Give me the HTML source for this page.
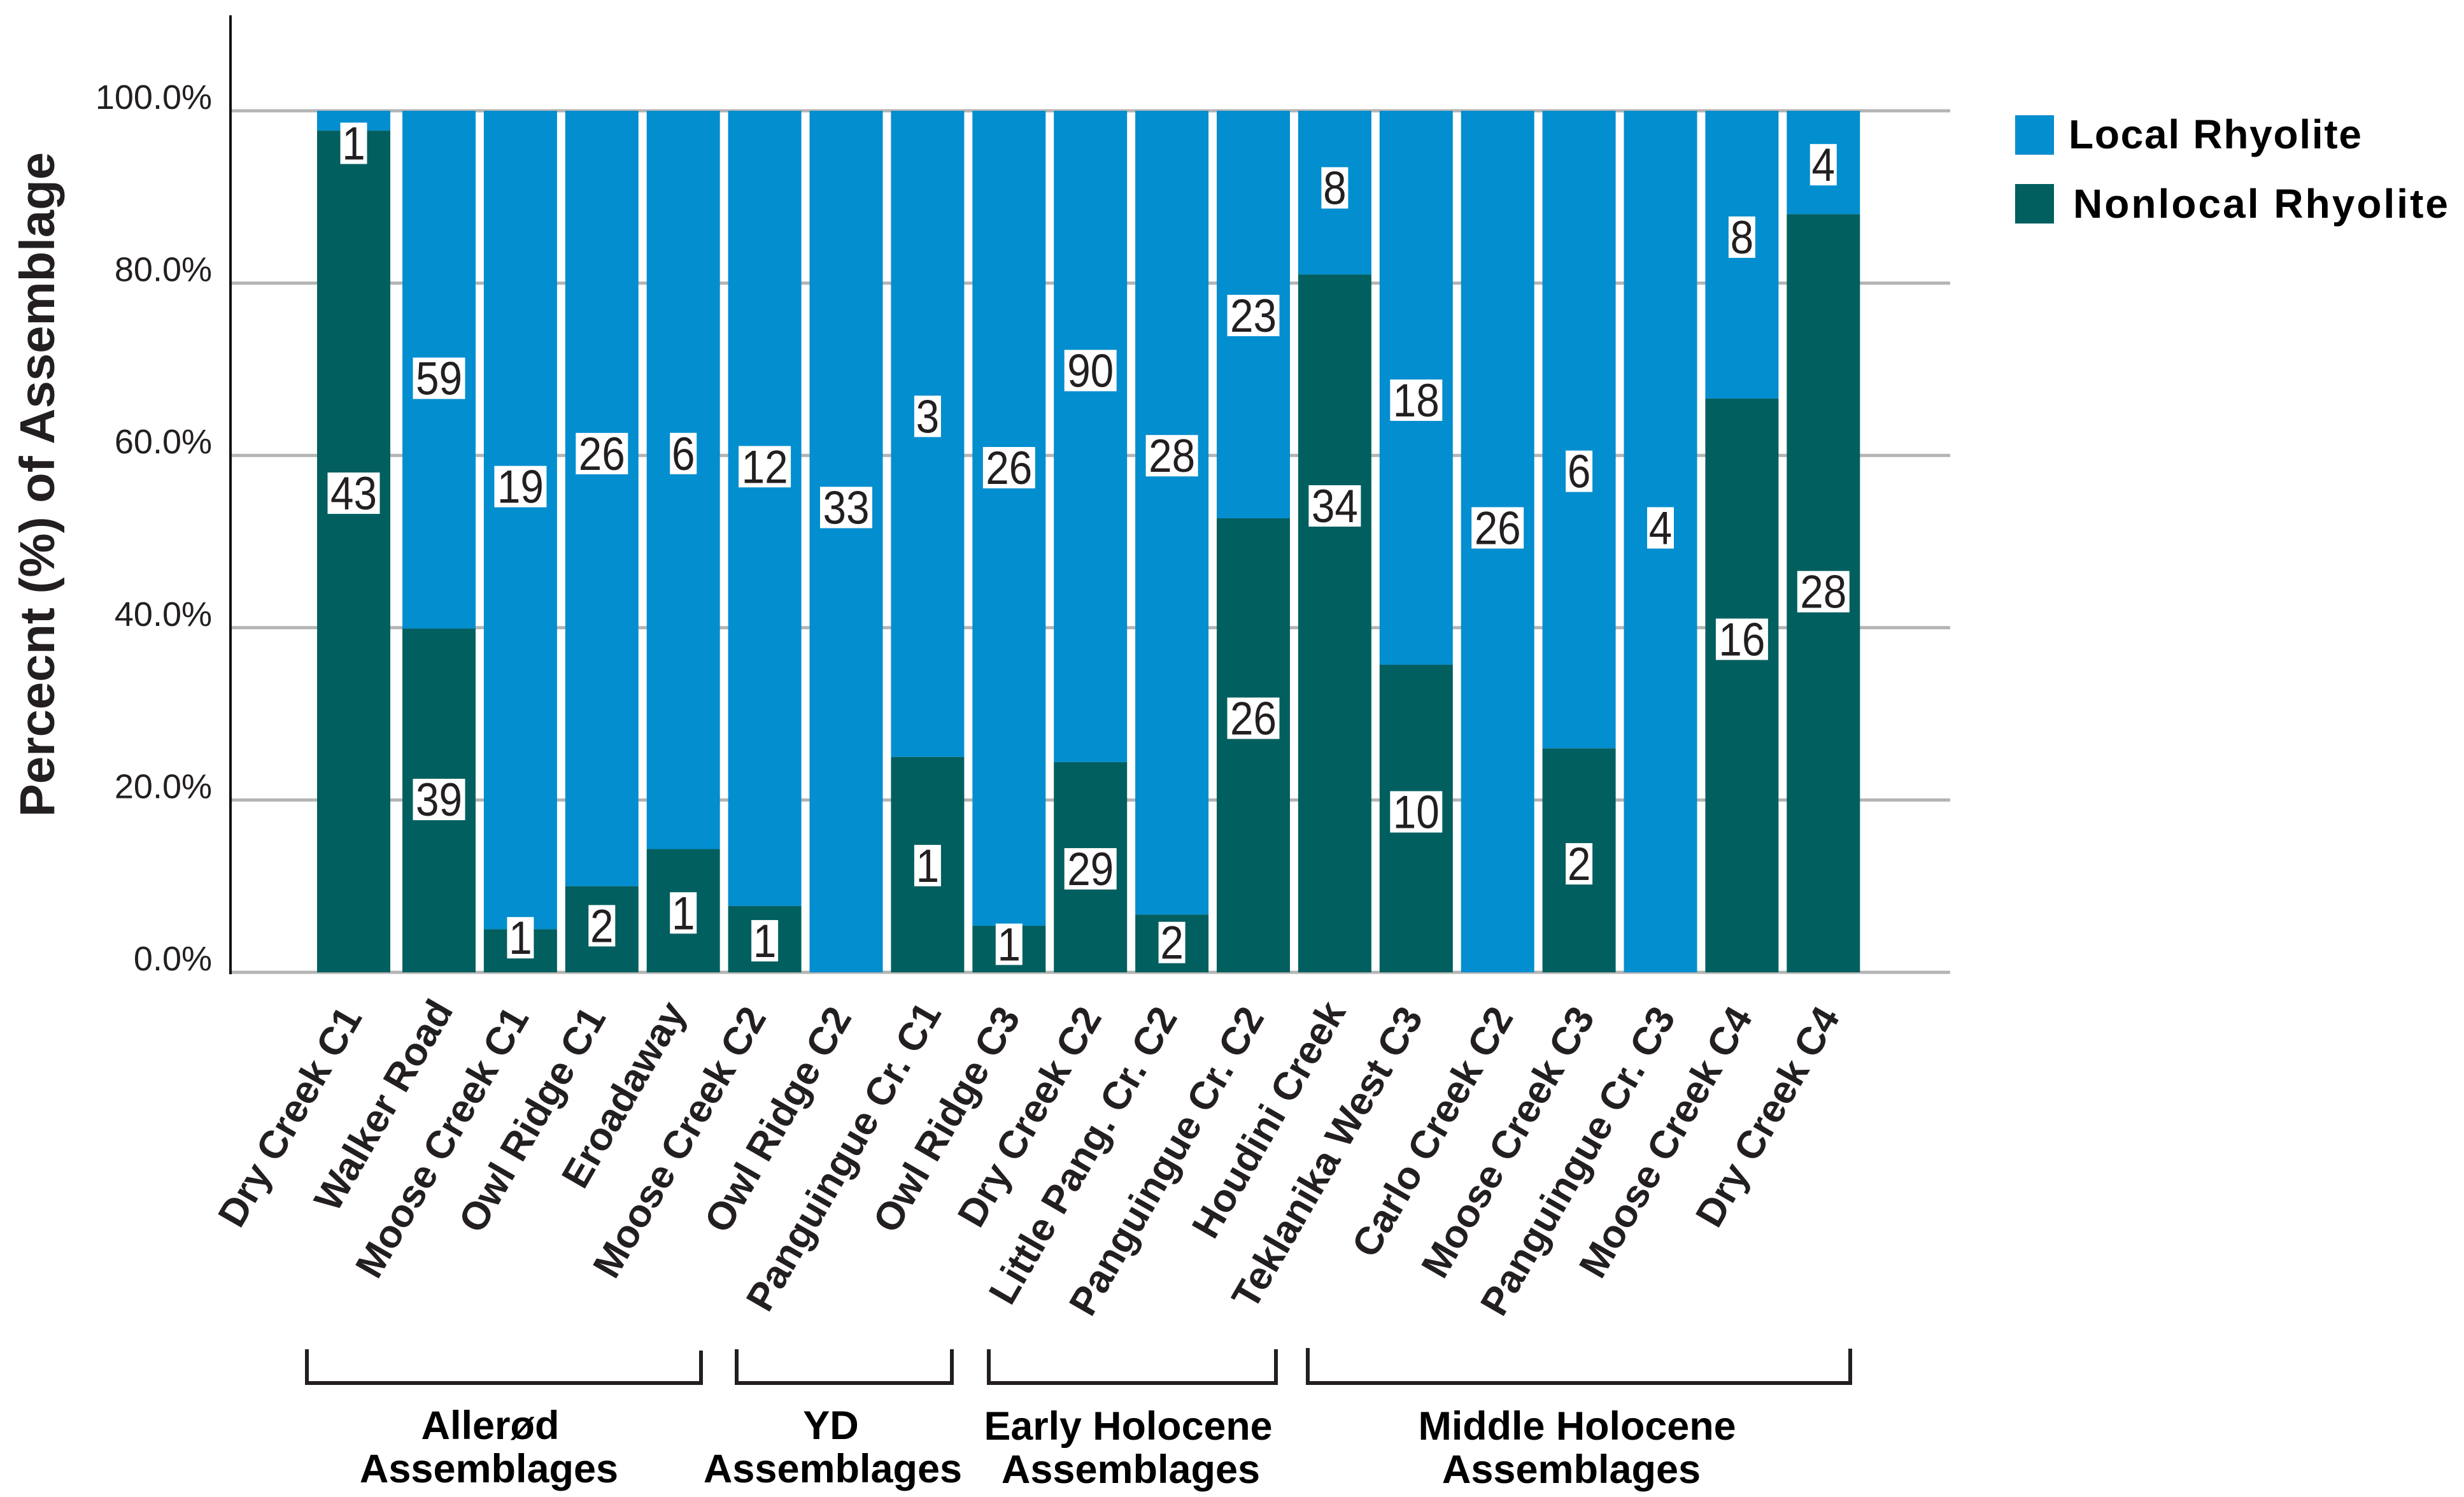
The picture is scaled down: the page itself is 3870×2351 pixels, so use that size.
<!DOCTYPE html>
<html lang="en">
<head>
<meta charset="utf-8">
<title>Local and Nonlocal Rhyolite by Assemblage</title>
<style>
html,body{margin:0;padding:0;background:#fff;}
svg{display:block;}
text{font-family:"Liberation Sans",Arial,sans-serif;}
</style>
</head>
<body>
<svg id="chart" xmlns="http://www.w3.org/2000/svg" width="3870" height="2351" viewBox="0 0 3870 2351">
  <rect width="3870" height="2351" fill="#ffffff"/>
  <g id="grid"></g>
  <g id="ticks"></g>
  <g id="bars"></g>
  <g id="values"></g>
  <g id="cats"></g>
  <line x1="362" y1="24" x2="362" y2="1530" stroke="#111" stroke-width="4"/>
  <text transform="translate(85,761) rotate(-90)" text-anchor="middle" font-size="77" font-weight="700" fill="#231f20" textLength="1044" lengthAdjust="spacingAndGlyphs">Percecnt (%) of Assemblage</text>

  <g>
    <rect x="3165" y="181" width="61" height="62" fill="#028ecf"/>
    <text x="3249" y="233" font-size="64" font-weight="700" fill="#000" textLength="460" lengthAdjust="spacing">Local Rhyolite</text>
    <rect x="3165" y="289" width="61" height="62" fill="#025f5f"/>
    <text x="3256" y="342" font-size="64" font-weight="700" fill="#000" textLength="589" lengthAdjust="spacing">Nonlocal Rhyolite</text>
  </g>

  <g fill="none" stroke="#231f20" stroke-linejoin="miter">
    <path d="M482 2119V2172H1101V2121" stroke-width="6"/>
    <path d="M1157 2119V2172H1495V2119" stroke-width="6"/>
    <path d="M1553 2119V2172H2004V2119" stroke-width="6"/>
    <path d="M2054 2117V2172H2906V2118" stroke-width="6"/>
  </g>
  <g font-size="63" font-weight="700" fill="#000" text-anchor="middle">
    <text x="770" y="2260">Allerød</text>
    <text x="768" y="2328">Assemblages</text>
    <text x="1305" y="2260">YD</text>
    <text x="1308" y="2328">Assemblages</text>
    <text x="1772" y="2261" textLength="453" lengthAdjust="spacingAndGlyphs">Early Holocene</text>
    <text x="1776" y="2329">Assemblages</text>
    <text x="2477" y="2261" textLength="499" lengthAdjust="spacingAndGlyphs">Middle Holocene</text>
    <text x="2468" y="2329">Assemblages</text>
  </g>
</svg>
<script>
// Chart data
const categories = ["Dry Creek C1","Walker Road","Moose Creek C1","Owl Ridge C1","Eroadaway","Moose Creek C2","Owl Ridge C2","Panguingue Cr. C1","Owl Ridge C3","Dry Creek C2","Little Pang. Cr. C2","Panguingue Cr. C2","Houdini Creek","Teklanika West C3","Carlo Creek C2","Moose Creek C3","Panguingue Cr. C3","Moose Creek C4","Dry Creek C4"];
const nonlocalPercent = [97.7,39.9,5,10,14.3,7.7,0,25,5.4,24.4,6.7,52.7,81,35.7,0,26,0,66.6,88];
const localPercent = [2.3,60.1,95,90,85.7,92.3,100,75,94.6,75.6,93.3,47.3,19,64.3,100,74,100,33.4,12];
const localCounts = [1,59,19,26,6,12,33,3,26,90,28,23,8,18,26,6,4,8,4];
const nonlocalCounts = [43,39,1,2,1,1,null,1,1,29,2,26,34,10,null,2,null,16,28];
const tickValues = [0,20,40,60,80,100];
const tickLabels = ["0.0%","20.0%","40.0%","60.0%","80.0%","100.0%"];

// Layout offsets for hand-placed annotations
const localLabelShift = [36,14,-52,-70,-41,-65,-53,-27,-79,-103,-89,2,-7,20,-21,66,-21,-27,4];
const nonlocalLabelShift = [-91,-1,-20,-5,4,3,0,2,-7,3,-1,-42,-184,-10,0,6,0,-72,-2];
const categoryShiftX = [14.5,23.5,14.6,7.7,5.8,3.9,10,23,19,19,10,18.5,18.6,12,26,26,25,18,27];
const categoryShiftY = [0,-11,0,0,-8,0,0,-7,0,0,0,0,-9,0,0,0,0,0,0];

const SVG_NS = "http://www.w3.org/2000/svg";
const COLOR_LOCAL = "#028ecf";
const COLOR_NONLOCAL = "#025f5f";
const BAR_WIDTH = 115;

function yScale(v){ return 1527 - v * 13.53; }
function xScale(i){ return i === 0 ? 498 : 632 + (i - 1) * 127.9; }

const gridG = document.getElementById("grid");
const ticksG = document.getElementById("ticks");
const barsG = document.getElementById("bars");
const valuesG = document.getElementById("values");
const catsG = document.getElementById("cats");

tickValues.forEach(function(v, i){
  const line = document.createElementNS(SVG_NS, "line");
  
  
  line.setAttribute("x1", 362);
  line.setAttribute("x2", 3063);
  line.setAttribute("y1", yScale(v));
  line.setAttribute("y2", yScale(v));
  line.setAttribute("stroke", "#b4b4b4");
  line.setAttribute("stroke-width", 5);
  gridG.appendChild(line);

  const label = document.createElementNS(SVG_NS, "text");
  
  
  label.setAttribute("x", 333);
  label.setAttribute("y", yScale(v) - 3);
  label.setAttribute("text-anchor", "end");
  label.setAttribute("font-size", 54);
  label.setAttribute("fill", "#231f20");
  label.textContent = tickLabels[i];
  ticksG.appendChild(label);
});

function addBox(value, cx, cy, name){
  const digits = String(value).length;
  const w = digits * 40 + 2;
  const box = document.createElementNS(SVG_NS, "rect");
  
  
  box.setAttribute("x", cx - w / 2);
  box.setAttribute("y", cy - 33);
  box.setAttribute("width", w);
  box.setAttribute("height", 65);
  box.setAttribute("fill", "#ffffff");
  valuesG.appendChild(box);

  const t = document.createElementNS(SVG_NS, "text");
  
  
  t.setAttribute("x", cx);
  t.setAttribute("y", cy + 25);
  t.setAttribute("text-anchor", "middle");
  t.setAttribute("font-size", 73);
  t.setAttribute("fill", "#231f20");
  t.setAttribute("textLength", digits * 36.5);
  t.setAttribute("lengthAdjust", "spacingAndGlyphs");
  t.textContent = value;
  valuesG.appendChild(t);
}

categories.forEach(function(cat, i){
  const x = xScale(i);
  const nlTop = yScale(nonlocalPercent[i]);
  const lcTop = yScale(nonlocalPercent[i] + localPercent[i]);

  const local = document.createElementNS(SVG_NS, "rect");
  
  
  local.setAttribute("x", x);
  local.setAttribute("y", lcTop);
  local.setAttribute("width", BAR_WIDTH);
  local.setAttribute("height", nlTop - lcTop);
  local.setAttribute("fill", COLOR_LOCAL);
  barsG.appendChild(local);

  const nonlocal = document.createElementNS(SVG_NS, "rect");
  
  
  nonlocal.setAttribute("x", x);
  nonlocal.setAttribute("y", nlTop);
  nonlocal.setAttribute("width", BAR_WIDTH);
  nonlocal.setAttribute("height", yScale(0) - nlTop);
  nonlocal.setAttribute("fill", COLOR_NONLOCAL);
  barsG.appendChild(nonlocal);

  const cx = x + BAR_WIDTH / 2;
  addBox(localCounts[i], cx, (lcTop + nlTop) / 2 + localLabelShift[i], 'value-local-' + i);
  if (nonlocalCounts[i] !== null) {
    addBox(nonlocalCounts[i], cx, (nlTop + yScale(0)) / 2 + nonlocalLabelShift[i], 'value-nonlocal-' + i);
  }

  const catLabel = document.createElementNS(SVG_NS, "text");
  
  
  catLabel.setAttribute("transform", "translate(" + (cx + categoryShiftX[i]) + "," + (1597 + categoryShiftY[i]) + ") rotate(-60)");
  catLabel.setAttribute("text-anchor", "end");
  catLabel.setAttribute("font-size", 61.5);
  catLabel.setAttribute("font-weight", "700");
  catLabel.setAttribute("fill", "#231f20");
  catLabel.textContent = cat;
  catsG.appendChild(catLabel);
});
</script>
</body>
</html>
